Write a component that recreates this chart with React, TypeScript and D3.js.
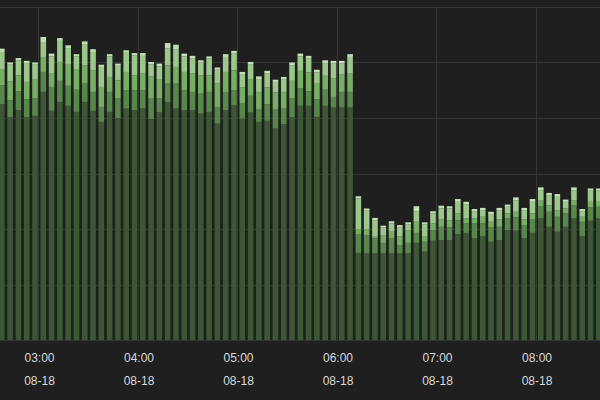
import * as d3 from 'd3';

// 5-minute buckets, 02:35 .. 08:35 on 08-18
const bucketStart = new Date(2018, 7, 18, 2, 35);
const bucketEnd = new Date(2018, 7, 18, 8, 40);

// stacked series, bottom to top
const seriesA = [
  42.5, 40.1, 41.4, 40.1, 40.4, 44.7, 41.3, 42.9, 42.2, 41.1, 42.9, 41.3, 39.3, 41.1, 40.0, 41.7, 41.4, 41.7, 39.8, 41.0,
  42.9, 41.7, 41.4, 41.4, 40.8, 41.1, 39.0, 41.4, 42.3, 39.9, 41.0, 39.3, 39.5, 38.1, 38.9, 40.1, 42.2, 42.2, 40.2, 42.2,
  41.9, 41.9, 41.9,
  15.7, 15.6, 15.6, 15.6, 15.6, 15.6, 15.6, 17.5, 15.9, 17.9, 18.0, 18.0, 19.1, 19.3, 18.3, 18.7, 17.7, 18.0, 19.8, 19.7,
  18.3, 19.3, 21.9, 20.4, 19.5, 20.4, 21.9, 18.7, 21.5, 21.9,
];
const seriesB = [
  3.4, 3.1, 3.4, 3.3, 3.2, 3.6, 4.3, 3.8, 3.6, 4.0, 3.3, 3.4, 2.7, 3.6, 3.6, 3.3, 3.6, 3.3, 3.7, 2.6,
  3.3, 4.5, 3.6, 3.3, 3.6, 3.6, 3.0, 3.3, 2.7, 2.8, 3.0, 2.2, 3.0, 3.4, 2.8, 3.4, 3.2, 2.6, 3.2, 2.9,
  1.9, 2.8, 2.8,
  3.3, 3.3, 2.7, 1.9, 2.7, 1.5, 1.9, 1.8, 1.8, 1.9, 2.4, 2.3, 2.5, 1.7, 2.7, 2.3, 2.6, 2.4, 2.1, 2.4,
  2.4, 2.4, 2.2, 2.7, 2.7, 2.4, 2.4, 2.6, 2.4, 2.1,
];
const seriesC = [
  2.8, 3.4, 2.9, 3.1, 3.3, 2.7, 2.5, 3.4, 3.8, 3.6, 3.3, 3.9, 3.6, 2.7, 3.2, 3.3, 2.7, 3.0, 4.0, 3.3,
  3.3, 3.0, 3.3, 3.3, 3.3, 3.0, 4.2, 3.6, 3.6, 2.8, 2.9, 3.2, 3.0, 3.1, 3.0, 3.2, 3.1, 3.4, 2.9, 2.5,
  3.3, 3.2, 3.3,
  0.9, 1.0, 0.3, 1.4, 1.2, 1.6, 2.3, 2.0, 0.9, 1.2, 1.3, 1.3, 1.2, 0.9, 0.9, 1.2, 1.0, 1.3, 0.9, 1.0,
  1.0, 1.1, 1.0, 1.2, 1.2, 0.9, 0.9, 0.9, 1.0, 0.9,
];
const seriesD = [
  3.2, 3.0, 2.7, 3.4, 2.7, 2.7, 3.0, 3.8, 3.0, 2.4, 3.8, 3.3, 3.6, 3.7, 2.6, 3.6, 3.6, 3.2, 2.2, 2.4,
  3.0, 3.2, 2.8, 2.7, 2.3, 3.0, 2.5, 2.7, 3.0, 2.3, 2.7, 2.3, 2.5, 1.9, 2.3, 2.8, 2.6, 2.5, 1.9, 2.3,
  2.7, 1.9, 3.0,
  5.6, 3.4, 3.0, 1.4, 1.5, 1.6, 1.0, 1.9, 2.2, 1.8, 2.0, 2.1, 2.1, 2.5, 1.3, 1.2, 1.4, 1.7, 1.2, 2.1,
  1.7, 2.1, 1.9, 1.7, 2.4, 1.2, 1.8, 1.0, 2.0, 2.0,
];
const seriesE = [
  0.6, 0.4, 0.4, 0.4, 0.4, 0.9, 0.5, 0.5, 0.5, 0.4, 0.5, 0.5, 0.4, 0.4, 0.4, 0.3, 0.4, 0.5, 0.4, 0.5,
  1.0, 0.8, 0.5, 0.5, 0.4, 0.4, 0.4, 0.5, 0.5, 0.5, 0.5, 0.5, 0.5, 0.4, 0.4, 0.5, 0.5, 0.5, 0.5, 0.5,
  0.5, 0.5, 0.5,
  0.4, 0.4, 0.4, 0.3, 0.4, 0.4, 0.4, 0.9, 0.4, 0.4, 0.5, 0.4, 0.5, 0.5, 0.4, 0.4, 0.4, 0.4, 0.4, 0.5,
  0.4, 0.5, 0.5, 0.5, 0.5, 0.4, 0.5, 0.4, 0.4, 0.4,
];

const seriesKeys = ['a', 'b', 'c', 'd', 'e'];
const seriesColors = ['#3b5733', '#58874b', '#76ae64', '#9bc78b', '#c2e0b5'];

const width = 600;
const height = 400;

const App = () => {
  const times = d3.timeMinute.every(5)!.range(bucketStart, bucketEnd);
  const rows = times.map((t, i) => ({
    time: t,
    a: seriesA[i],
    b: seriesB[i],
    c: seriesC[i],
    d: seriesD[i],
    e: seriesE[i],
  }));

  const x = d3
    .scaleTime()
    .domain([new Date(2018, 7, 18, 2, 36, 11), new Date(2018, 7, 18, 8, 38, 0)])
    .range([0, width]);
  const y = d3.scaleLinear().domain([0, 60]).range([340, 7]);

  const stacked = d3.stack<any>().keys(seriesKeys)(rows);
  const step = x(d3.timeMinute.offset(bucketStart, 5)) - x(bucketStart);
  const barW = step - 2.7;

  const hourTicks = x.ticks(d3.timeHour.every(1)!);
  const hLines = y.ticks(6);
  const fmtTime = d3.timeFormat('%H:%M');
  const fmtDay = d3.timeFormat('%m-%d');

  return (
    <div>
      <style>{`body{margin:0;background:#1f1f1f}`}</style>
      <svg width={width} height={height} style={{ display: 'block', background: '#1f1f1f' }}>
        {/* grid */}
        {hLines.map(v => (
          <line key={'h' + v} x1={0} x2={width} y1={Math.round(y(v)) + 0.5} y2={Math.round(y(v)) + 0.5}
            stroke="#373737" strokeWidth={1} />
        ))}
        {hourTicks.map(t => (
          <line key={'v' + t.getTime()} x1={Math.round(x(t)) - 0.5} x2={Math.round(x(t)) - 0.5} y1={7} y2={340}
            stroke="#373737" strokeWidth={1} />
        ))}

        {/* stacked bars */}
        {stacked.map((layer, li) => (
          <g key={layer.key} fill={seriesColors[li]}>
            {layer.map((seg, i) => (
              <rect key={i}
                x={x(rows[i].time) + 1}
                y={y(seg[1])}
                width={barW}
                height={y(seg[0]) - y(seg[1])} />
            ))}
          </g>
        ))}

        {/* x axis labels */}
        <g fill="#d8d9da" fontFamily="'Liberation Sans', Arial, sans-serif" fontSize={12} textAnchor="middle">
          {hourTicks.map(t => (
            <g key={'l' + t.getTime()}>
              <text x={x(t)} y={362}>{fmtTime(t)}</text>
              <text x={x(t)} y={385}>{fmtDay(t)}</text>
            </g>
          ))}
        </g>
      </svg>
    </div>
  );
};

export default App;
